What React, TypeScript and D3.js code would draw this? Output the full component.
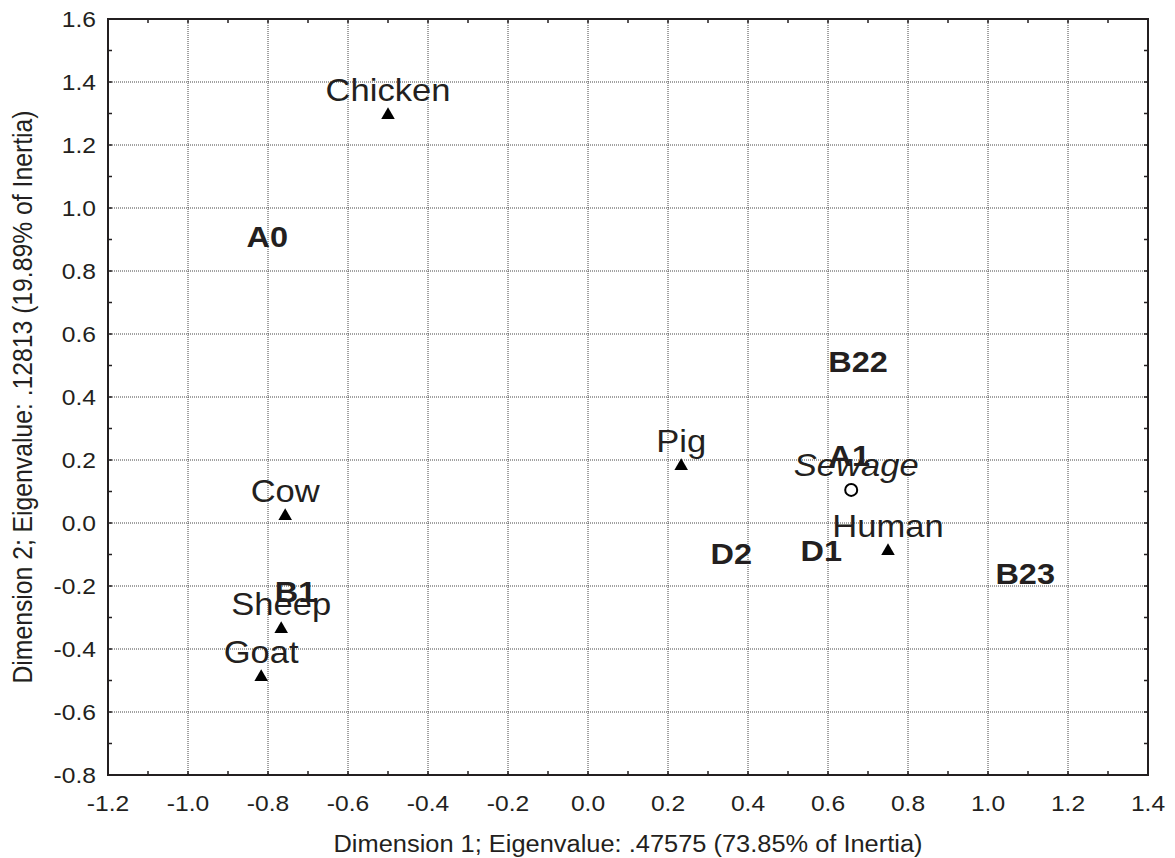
import React, { useEffect, useRef } from "react";
import * as d3 from "d3";

const WIDTH = 1175;
const HEIGHT = 858;
const MARGIN = { top: 19, right: 27, bottom: 83, left: 108 };
const INK = "#231f20";
const FONT = "'Liberation Sans', Arial, Helvetica, sans-serif";

const X_TICKS = [-1.2, -1.0, -0.8, -0.6, -0.4, -0.2, 0.0, 0.2, 0.4, 0.6, 0.8, 1.0, 1.2, 1.4];
const Y_TICKS = [-0.8, -0.6, -0.4, -0.2, 0.0, 0.2, 0.4, 0.6, 0.8, 1.0, 1.2, 1.4, 1.6];
const X_TITLE = "Dimension 1; Eigenvalue: .47575 (73.85% of Inertia)";
const Y_TITLE = "Dimension 2; Eigenvalue: .12813 (19.89% of Inertia)";

// row points (host species), drawn as triangles
const ANIMALS = ["Chicken", "Pig", "Cow", "Sheep", "Goat", "Human"];
const ANIMAL_X = [-0.5, 0.233, -0.757, -0.767, -0.817, 0.75];
const ANIMAL_Y = [1.295, 0.181, 0.022, -0.337, -0.489, -0.089];

// supplementary point
const SOURCES = ["Sewage"];
const SOURCE_X = [0.658];
const SOURCE_Y = [0.105];

// column points (marker groups), text only
const GROUPS = ["A0", "B22", "A1", "D2", "D1", "B23", "B1"];
const GROUP_X = [-0.802, 0.675, 0.653, 0.358, 0.583, 1.093, -0.731];
const GROUP_Y = [0.908, 0.511, 0.213, -0.098, -0.089, -0.162, -0.219];

const fmt = (v: number) => (Math.abs(v) < 1e-9 ? "0.0" : v.toFixed(1));

const Chart = () => {
  const svgRef = useRef<SVGSVGElement | null>(null);

  useEffect(() => {
    const innerW = WIDTH - MARGIN.left - MARGIN.right;
    const innerH = HEIGHT - MARGIN.top - MARGIN.bottom;

    const x = d3.scaleLinear().domain([-1.2, 1.4]).range([0, innerW]);
    const y = d3.scaleLinear().domain([-0.8, 1.6]).range([innerH, 0]);

    const svgEl = d3.select(svgRef.current);
    svgEl.selectAll("*").remove();
    const svg = svgEl
      .append("g")
      .attr("transform", `translate(${MARGIN.left},${MARGIN.top})`);

    // grid
    svg
      .selectAll(".gx")
      .data(X_TICKS.slice(1, -1))
      .join("line")
      .attr("x1", (d) => x(d))
      .attr("x2", (d) => x(d))
      .attr("y1", 0)
      .attr("y2", innerH)
      .attr("stroke", "#444")
      .attr("stroke-width", 1)
      .attr("stroke-dasharray", "1,1");
    svg
      .selectAll(".gy")
      .data(Y_TICKS.slice(1, -1))
      .join("line")
      .attr("x1", 0)
      .attr("x2", innerW)
      .attr("y1", (d) => y(d))
      .attr("y2", (d) => y(d))
      .attr("stroke", "#444")
      .attr("stroke-width", 1)
      .attr("stroke-dasharray", "1,1");

    // minor + major ticks, inward on all four sides
    const xMinor = d3.range(0, 27).map((i) => -1.2 + i * 0.1);
    const yMinor = d3.range(0, 25).map((i) => -0.8 + i * 0.1);
    const tk = 4;
    const ticks = svg.append("g").attr("stroke", INK).attr("stroke-width", 1.5);
    xMinor.forEach((v) => {
      ticks.append("line").attr("x1", x(v)).attr("x2", x(v)).attr("y1", innerH).attr("y2", innerH - tk);
      ticks.append("line").attr("x1", x(v)).attr("x2", x(v)).attr("y1", 0).attr("y2", tk);
    });
    yMinor.forEach((v) => {
      ticks.append("line").attr("y1", y(v)).attr("y2", y(v)).attr("x1", 0).attr("x2", tk);
      ticks.append("line").attr("y1", y(v)).attr("y2", y(v)).attr("x1", innerW).attr("x2", innerW - tk);
    });

    // frame
    svg
      .append("rect")
      .attr("width", innerW)
      .attr("height", innerH)
      .attr("fill", "none")
      .attr("stroke", INK)
      .attr("stroke-width", 2);

    // tick labels
    svg
      .selectAll(".xl")
      .data(X_TICKS)
      .join("text")
      .attr("transform", (d) => `translate(${x(d)},${innerH + 36}) scale(1.12,1)`)
      .attr("text-anchor", "middle")
      .attr("font-family", FONT)
      .attr("font-size", 22)
      .attr("fill", INK)
      .text((d) => fmt(d));
    svg
      .selectAll(".yl")
      .data(Y_TICKS)
      .join("text")
      .attr("transform", (d) => `translate(-12,${y(d)}) scale(1.12,1)`)
      .attr("dy", "0.36em")
      .attr("text-anchor", "end")
      .attr("font-family", FONT)
      .attr("font-size", 22)
      .attr("fill", INK)
      .text((d) => fmt(d));

    // axis titles
    svg
      .append("text")
      .attr("x", innerW / 2)
      .attr("y", innerH + 77)
      .attr("text-anchor", "middle")
      .attr("font-family", FONT)
      .attr("font-size", 23)
      .attr("fill", INK)
      .attr("textLength", 589)
      .attr("lengthAdjust", "spacingAndGlyphs")
      .text(X_TITLE);
    svg
      .append("text")
      .attr("transform", `translate(${-MARGIN.left + 32},${innerH / 2}) scale(1.15,1) rotate(-90)`)
      .attr("text-anchor", "middle")
      .attr("font-family", FONT)
      .attr("font-size", 24)
      .attr("fill", INK)
      .attr("textLength", 573)
      .attr("lengthAdjust", "spacingAndGlyphs")
      .text(Y_TITLE);

    // column points: bold labels
    svg
      .selectAll(".grp")
      .data(GROUPS)
      .join("text")
      .attr("transform", (d, i) => `translate(${x(GROUP_X[i])},${y(GROUP_Y[i])}) scale(1.12,1)`)
      .attr("dy", "0.36em")
      .attr("text-anchor", "middle")
      .attr("font-family", FONT)
      .attr("font-weight", "bold")
      .attr("font-size", 29)
      .attr("fill", INK)
      .text((d) => d);

    // row points: triangles + labels
    const tri = d3.symbol().type(d3.symbolTriangle).size(80);
    svg
      .selectAll(".tri")
      .data(ANIMALS)
      .join("path")
      .attr("d", tri)
      .attr("transform", (d, i) => `translate(${x(ANIMAL_X[i])},${y(ANIMAL_Y[i])})`)
      .attr("fill", "#000");
    svg
      .selectAll(".al")
      .data(ANIMALS)
      .join("text")
      .attr("transform", (d, i) => `translate(${x(ANIMAL_X[i])},${y(ANIMAL_Y[i]) - 14}) scale(1.08,1)`)
      .attr("text-anchor", "middle")
      .attr("font-family", FONT)
      .attr("font-size", 32)
      .attr("fill", INK)
      .text((d) => d);

    // supplementary point: open circle + italic label
    svg
      .selectAll(".src")
      .data(SOURCES)
      .join("circle")
      .attr("cx", (d, i) => x(SOURCE_X[i]))
      .attr("cy", (d, i) => y(SOURCE_Y[i]))
      .attr("r", 6)
      .attr("fill", "none")
      .attr("stroke", "#000")
      .attr("stroke-width", 2);
    svg
      .selectAll(".srl")
      .data(SOURCES)
      .join("text")
      .attr("transform", (d, i) => `translate(${x(SOURCE_X[i]) + 5},${y(SOURCE_Y[i]) - 14}) scale(1.08,1)`)
      .attr("text-anchor", "middle")
      .attr("font-family", FONT)
      .attr("font-style", "italic")
      .attr("font-size", 32)
      .attr("fill", INK)
      .text((d) => d);
  }, []);

  return <svg ref={svgRef} width={WIDTH} height={HEIGHT} style={{ display: "block", background: "#fff" }} />;
};

export default function App() {
  return (
    <div style={{ position: "absolute", left: 0, top: 0 }}>
      <Chart />
    </div>
  );
}
